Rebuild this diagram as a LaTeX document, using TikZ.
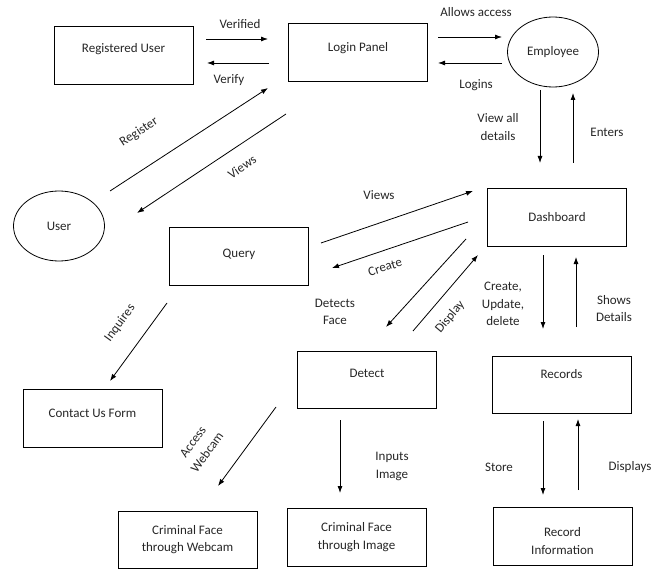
\documentclass[tikz,border=0pt]{standalone}
\usepackage{fontspec}
\setmainfont{Carlito}
\usetikzlibrary{shapes.geometric,arrows.meta}
\newcommand{\up}[2]{\raisebox{#1}[\height][\depth]{#2}}
\begin{document}
\begin{tikzpicture}[x=1pt,y=-1pt,
  every node/.style={font=\fontsize{13}{17.5}\selectfont, text=black!85},
  box/.style={draw, line width=0.8pt, rectangle, minimum width=139pt, minimum height=58pt, inner sep=0pt, align=center},
  oval/.style={draw, line width=0.8pt, ellipse, minimum width=91pt, minimum height=70pt, inner sep=0pt},
  lbl/.style={align=center, inner sep=0pt},
  flow/.style={line width=0.8pt, -{Latex[length=7pt,width=5pt]}}]
\useasboundingbox (0,0) rectangle (652,569);
% nodes
\node[box] (reg) at (123.5,55) {\up{6pt}{Registered User}};
\node[box] (login) at (358,52) {\up{4pt}{Login Panel}};
\node[oval] (emp) at (553,52) {Employee};
\node[oval] (user) at (59,226) {User};
\node[box] (query) at (239,256) {\up{2pt}{Query}};
\node[box] (dash) at (557,217.5) {Dashboard};
\node[box] (contact) at (92.5,418) {\up{5pt}{Contact Us Form}};
\node[box,minimum height=57pt] (detect) at (367,379.5) {\up{6pt}{Detect}};
\node[box,minimum height=57pt] (records) at (561.5,384.5) {\up{10pt}{Records}};
\node[box,minimum height=57pt] (webcam) at (187.5,539.5) {Criminal Face\\through Webcam};
\node[box] (image) at (356.5,537) {Criminal Face\\through Image};
\node[box] (recinfo) at (562.5,536) {\up{-6pt}{\begin{tabular}{@{}c@{}}Record\\Information\end{tabular}}};
% connector end points
\coordinate (a1s) at (206,39); \coordinate (a1e) at (268,39);
\coordinate (a2s) at (269,63); \coordinate (a2e) at (207,63);
\coordinate (a3s) at (438,37); \coordinate (a3e) at (502,37);
\coordinate (a4s) at (502,63); \coordinate (a4e) at (438,63);
\coordinate (a5s) at (540,90); \coordinate (a5e) at (540,163);
\coordinate (a6s) at (573,163); \coordinate (a6e) at (573,93);
\coordinate (a7s) at (110,191); \coordinate (a7e) at (268,88);
\coordinate (a8s) at (286,114); \coordinate (a8e) at (137,213);
\coordinate (a9s) at (167,303); \coordinate (a9e) at (110,381);
\coordinate (b1s) at (321,243); \coordinate (b1e) at (473,191);
\coordinate (b2s) at (468,222); \coordinate (b2e) at (332,268);
\coordinate (b3s) at (466,239); \coordinate (b3e) at (386,327);
\coordinate (b4s) at (413,331); \coordinate (b4e) at (478,255);
\coordinate (b5s) at (543,255); \coordinate (b5e) at (543,329);
\coordinate (b6s) at (576,327); \coordinate (b6e) at (576,257);
\coordinate (b7s) at (276,407); \coordinate (b7e) at (218,486);
\coordinate (b8s) at (340,420); \coordinate (b8e) at (340,493);
\coordinate (b9s) at (543,421); \coordinate (b9e) at (543,495);
\coordinate (c1s) at (578,490); \coordinate (c1e) at (578,419);
% connectors
\draw[flow] (a1s) -- (a1e);
\draw[flow] (a2s) -- (a2e);
\draw[flow] (a3s) -- (a3e);
\draw[flow] (a4s) -- (a4e);
\draw[flow] (a5s) -- (a5e);
\draw[flow] (a6s) -- (a6e);
\draw[flow] (a7s) -- (a7e);
\draw[flow] (a8s) -- (a8e);
\draw[flow] (a9s) -- (a9e);
\draw[flow] (b1s) -- (b1e);
\draw[flow] (b2s) -- (b2e);
\draw[flow] (b3s) -- (b3e);
\draw[flow] (b4s) -- (b4e);
\draw[flow] (b5s) -- (b5e);
\draw[flow] (b6s) -- (b6e);
\draw[flow] (b7s) -- (b7e);
\draw[flow] (b8s) -- (b8e);
\draw[flow] (b9s) -- (b9e);
\draw[flow] (c1s) -- (c1e);
% labels
\node[lbl] (l1) at (240,24) {Verified};
\node[lbl] (l2) at (229,80) {Verify};
\node[lbl] (l3) at (476,12) {Allows access};
\node[lbl] (l4) at (476,85) {Logins};
\node[lbl] (l5) at (498,127) {View all\\details};
\node[lbl] (l6) at (607,132) {Enters};
\node[lbl,rotate=33] (l7) at (139,132) {Register};
\node[lbl,rotate=34] (l8) at (242,167) {Views};
\node[lbl,rotate=54] (l9) at (120,323) {Inquires};
\node[lbl] (m1) at (379,195) {Views};
\node[lbl,rotate=17] (m2) at (385,267) {Create};
\node[lbl] (m3) at (335,312) {Detects\\Face};
\node[lbl,rotate=50] (m4) at (450,317) {Display};
\node[lbl] (m5) at (503,304) {Create,\\Update,\\delete};
\node[lbl] (m6) at (614,308.5) {Shows\\Details};
\node[lbl,rotate=54] (m7) at (200,447) {Access\\Webcam};
\node[lbl] (m8) at (392,466.5) {Inputs\\Image};
\node[lbl] (m9) at (499,467) {Store};
\node[lbl] (n1) at (630,467) {Displays};
\end{tikzpicture}
\end{document}
